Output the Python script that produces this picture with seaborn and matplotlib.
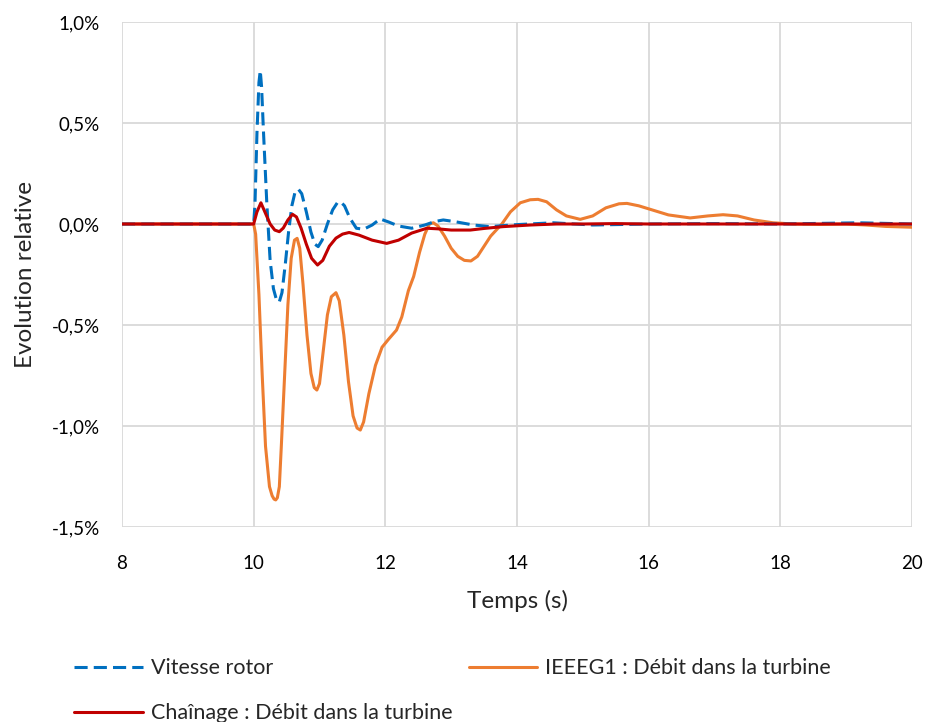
import matplotlib
matplotlib.use("Agg")
import matplotlib.pyplot as plt
import seaborn as sns
import pandas as pd

# ---- Data (time in s, relative evolution in %) ----
t_vitesse = [8.0, 10.0, 10.02, 10.05, 10.08, 10.10, 10.12, 10.15, 10.20, 10.25, 10.30,
             10.35, 10.39, 10.43, 10.48, 10.53, 10.58, 10.63, 10.68, 10.73, 10.80,
             10.87, 10.93, 10.98, 11.04, 11.12, 11.20, 11.27, 11.32, 11.38, 11.46,
             11.56, 11.67, 11.80, 11.92, 12.05, 12.20, 12.40, 12.60, 12.75, 12.88,
             13.05, 13.34, 13.59, 14.0, 14.55, 15.15, 16.0, 17.0, 18.0, 19.2, 20.0]
v_vitesse = [0.0, 0.0, 0.10, 0.45, 0.70, 0.76, 0.68, 0.45, 0.10, -0.18, -0.32,
             -0.38, -0.385, -0.34, -0.20, -0.04, 0.09, 0.16, 0.172, 0.15, 0.06,
             -0.04, -0.10, -0.112, -0.08, 0.00, 0.07, 0.105, 0.11, 0.09, 0.03,
             -0.021, -0.026, -0.005, 0.025, 0.01, -0.01, -0.021, -0.005, 0.012, 0.02,
             0.012, -0.005, -0.013, -0.003, 0.006, -0.005, 0.0, 0.002, 0.0, 0.006, 0.0]

t_ieeeg1 = [8.0, 10.0, 10.03, 10.08, 10.13, 10.18, 10.24, 10.28, 10.31, 10.335, 10.36,
            10.39, 10.42, 10.47, 10.52, 10.57, 10.62, 10.66, 10.70, 10.75, 10.81,
            10.87, 10.92, 10.96, 11.00, 11.06, 11.12, 11.18, 11.25, 11.30, 11.37,
            11.44, 11.51, 11.57, 11.62, 11.67, 11.75, 11.85, 11.95, 12.05, 12.17,
            12.25, 12.35, 12.43, 12.52, 12.60, 12.67, 12.73, 12.80, 12.90, 13.00,
            13.10, 13.20, 13.30, 13.40, 13.50, 13.60, 13.77, 13.90, 14.05, 14.20,
            14.32, 14.45, 14.60, 14.75, 14.96, 15.15, 15.35, 15.55, 15.67, 15.85,
            16.05, 16.30, 16.63, 16.90, 17.13, 17.35, 17.60, 17.89, 18.20, 18.60,
            19.00, 19.30, 19.60, 20.00]
v_ieeeg1 = [0.0, 0.0, -0.05, -0.35, -0.75, -1.10, -1.30, -1.345, -1.362, -1.366, -1.355,
            -1.30, -1.10, -0.75, -0.40, -0.17, -0.08, -0.071, -0.12, -0.30, -0.55,
            -0.74, -0.81, -0.822, -0.79, -0.62, -0.45, -0.36, -0.34, -0.38, -0.55,
            -0.78, -0.95, -1.01, -1.02, -0.98, -0.84, -0.70, -0.61, -0.57, -0.525,
            -0.46, -0.33, -0.26, -0.14, -0.05, 0.00, 0.006, -0.01, -0.06, -0.12,
            -0.16, -0.18, -0.183, -0.16, -0.11, -0.06, 0.00, 0.06, 0.105, 0.12,
            0.122, 0.11, 0.07, 0.04, 0.023, 0.04, 0.08, 0.10, 0.102, 0.09,
            0.07, 0.045, 0.03, 0.04, 0.046, 0.04, 0.02, 0.006, 0.0, -0.002,
            0.0, -0.005, -0.012, -0.016]

t_chainage = [8.0, 10.0, 10.05, 10.11, 10.17, 10.25, 10.32, 10.39, 10.45, 10.52, 10.59,
              10.65, 10.72, 10.80, 10.88, 10.97, 11.05, 11.15, 11.25, 11.35, 11.45,
              11.60, 11.80, 12.02, 12.20, 12.40, 12.63, 12.80, 13.00, 13.29, 13.50,
              13.79, 14.20, 14.60, 15.0, 15.5, 16.0, 18.0, 20.0]
v_chainage = [0.0, 0.0, 0.06, 0.105, 0.06, 0.0, -0.03, -0.038, -0.02, 0.02, 0.048,
              0.035, -0.02, -0.10, -0.17, -0.203, -0.18, -0.11, -0.07, -0.05, -0.042,
              -0.055, -0.08, -0.096, -0.08, -0.045, -0.021, -0.024, -0.03, -0.03, -0.022,
              -0.013, -0.005, 0.0, 0.0, 0.002, 0.0, 0.0, 0.0]

labels = ["Vitesse rotor", "IEEEG1 : Débit dans la turbine", "Chaînage : Débit dans la turbine"]
colors = ["#0070C0", "#ED7D31", "#C00000"]

x_ticks = [8, 10, 12, 14, 16, 18, 20]
y_ticks = [-1.5, -1.0, -0.5, 0.0, 0.5, 1.0]
y_ticklabels = ["-1,5%", "-1,0%", "-0,5%", "0,0%", "0,5%", "1,0%"]

sns.set_theme(style="whitegrid")
plt.rcParams["font.family"] = ["Lato", "DejaVu Sans"]

fig = plt.figure(figsize=(9.27, 7.22), dpi=100)
ax = fig.add_axes([122 / 927, 1 - 527 / 722, (912 - 122) / 927, (527 - 22) / 722])

df_v = pd.DataFrame({"t": t_vitesse, "v": v_vitesse})
df_i = pd.DataFrame({"t": t_ieeeg1, "v": v_ieeeg1})
df_c = pd.DataFrame({"t": t_chainage, "v": v_chainage})

lw = 2.2
sns.lineplot(data=df_i, x="t", y="v", ax=ax, color=colors[1], lw=lw, label=labels[1], zorder=3)
sns.lineplot(data=df_v, x="t", y="v", ax=ax, color=colors[0], lw=lw, label=labels[0],
             dashes=False, zorder=4)
ax.lines[-1].set_dashes((4.3, 2.0))
sns.lineplot(data=df_c, x="t", y="v", ax=ax, color=colors[2], lw=lw, label=labels[2], zorder=5)

ax.set_xlim(8, 20)
ax.set_ylim(-1.5, 1.0)
ax.set_xticks(x_ticks)
ax.set_xticklabels([str(x) for x in x_ticks])
ax.set_yticks(y_ticks)
ax.set_yticklabels(y_ticklabels)
ax.grid(True, color="#d9d9d9", lw=1.3)
for s in ax.spines.values():
    s.set_visible(False)
ax.tick_params(axis="both", length=0, labelsize=13.5, colors="#000000")
ax.tick_params(axis="y", pad=16)
ax.tick_params(axis="x", pad=20)
ax.set_xlabel("Temps (s)", fontsize=17.5, labelpad=13)
ax.set_ylabel("Evolution relative", fontsize=17.5, labelpad=11)
ax.set_facecolor("white")

handles, labs = ax.get_legend_handles_labels()
ax.get_legend().remove()
hmap = dict(zip(labs, handles))
order = [labels[0], labels[2], labels[1]]
fig.legend([hmap[l] for l in order], order, ncol=2, loc="upper left",
           bbox_to_anchor=(55 / 927, 1 - 639 / 722), frameon=False, fontsize=15.5,
           handlelength=3.2, handletextpad=0.37, columnspacing=0.73, labelspacing=1.15)

fig.savefig("out.png", dpi=100, facecolor="white")
